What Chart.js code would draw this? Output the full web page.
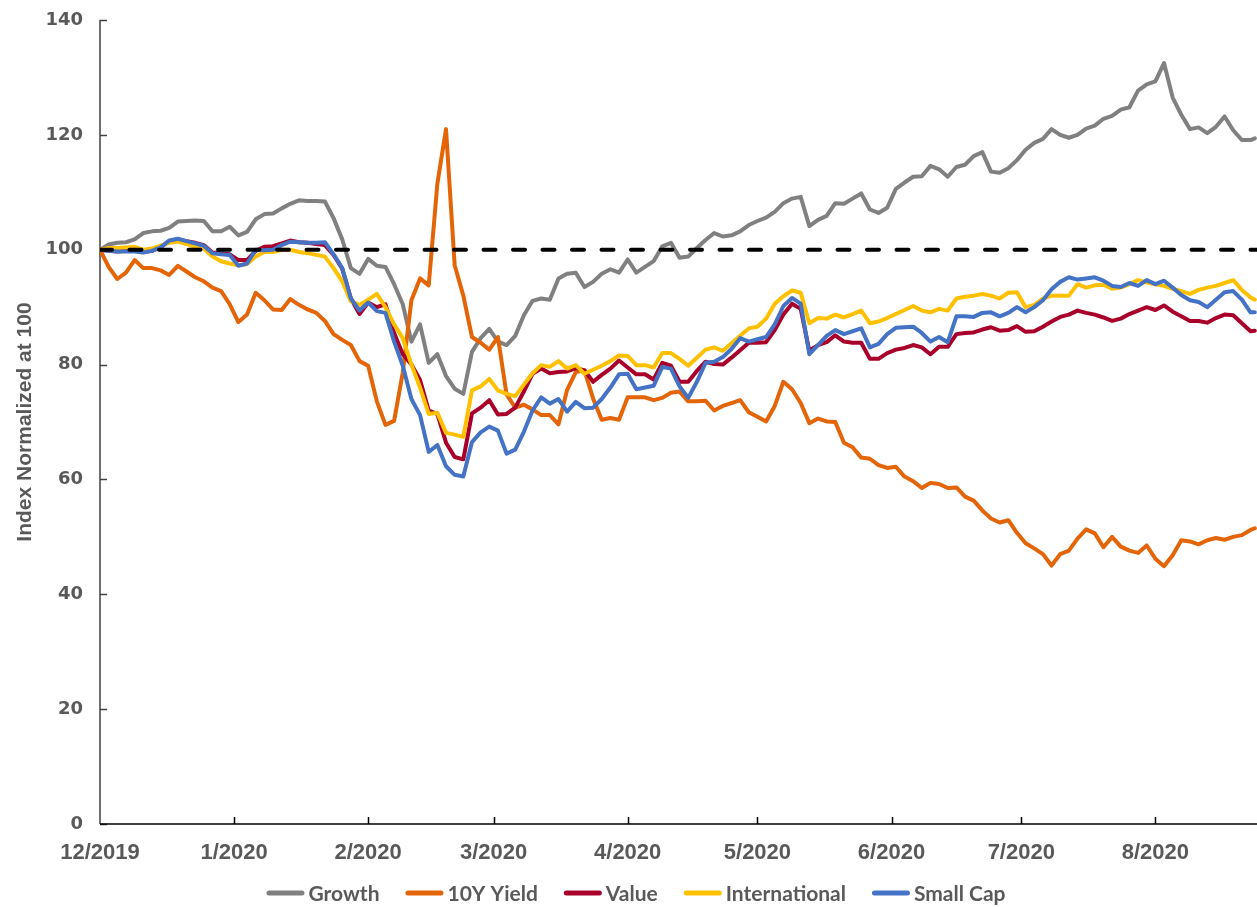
<!DOCTYPE html>
<html>
<head>
<meta charset="utf-8">
<title>Growth, 10Y Yield, Value, International and Small Cap, indexed to 100</title>
<script src="https://cdn.jsdelivr.net/npm/chart.js@4.4.1/dist/chart.umd.min.js"></script>
<style>
  html, body { margin: 0; padding: 0; background: #ffffff; }
  canvas { display: block; }
</style>
</head>
<body>
<canvas id="chart" width="1257" height="907"></canvas>
<script>
// Observation dates, as days since 1 Dec 2019
const dayOffsets = [
  0,2,4,6,8,10,12,14,16,18,20,22,24,26,28,30,32,34,36,38,
  40,42,44,46,48,50,52,54,56,58,60,62,64,66,68,70,72,74,76,78,
  80,82,84,86,88,90,92,94,96,98,100,102,104,106,108,110,112,114,116,118,
  120,122,124,126,128,130,132,134,136,138,140,142,144,146,148,150,152,154,156,158,
  160,162,164,166,168,170,172,174,176,178,180,182,184,186,188,190,192,194,196,198,
  200,202,204,206,208,210,212,214,216,218,220,222,224,226,228,230,232,234,236,238,
  240,242,244,246,248,250,252,254,256,258,260,262,264,266,267
];

// Index levels, normalized to 100 at the start
const growth = [
  100,100.9,101.2,101.3,101.8,102.9,103.2,103.3,103.8,104.9,
  105.0,105.1,105.0,103.2,103.2,104.0,102.5,103.1,105.3,106.2,
  106.3,107.2,108.0,108.6,108.5,108.5,108.4,105.5,101.8,96.8,
  95.8,98.4,97.2,97.0,94.0,90.5,84.0,87.0,80.3,81.8,
  78.0,75.8,74.9,82.2,84.6,86.2,84.0,83.4,85.0,88.6,
  91.1,91.5,91.3,95.0,95.8,96.0,93.5,94.4,95.8,96.6,
  96.0,98.3,96.0,97.0,98.0,100.6,101.2,98.6,98.8,100.3,
  101.7,102.9,102.3,102.5,103.2,104.3,105.0,105.6,106.6,108.1,
  108.9,109.2,104.1,105.2,105.9,108.1,108.0,108.9,109.8,107.0,
  106.4,107.3,110.6,111.7,112.7,112.8,114.6,114.0,112.7,114.4,
  114.8,116.3,117.0,113.6,113.4,114.2,115.6,117.4,118.6,119.3,
  121.0,120.0,119.5,120.0,121.1,121.6,122.8,123.3,124.4,124.8,
  127.7,128.8,129.3,132.5,126.5,123.5,121.0,121.3,120.3,121.4,
  123.2,120.8,119.1,119.1,119.4
];

const tenYearYield = [
  100,97.0,94.9,96.0,98.2,96.8,96.8,96.4,95.6,97.2,
  96.2,95.2,94.5,93.4,92.8,90.5,87.4,88.7,92.5,91.2,
  89.6,89.5,91.4,90.4,89.6,89.0,87.6,85.3,84.3,83.4,
  80.6,79.8,73.6,69.5,70.2,78.6,91.2,95.0,93.8,111.5,
  121.0,97.3,92.0,84.8,83.8,82.6,84.8,74.8,72.5,73.0,
  72.2,71.2,71.2,69.6,75.6,78.7,79.0,74.1,70.4,70.7,
  70.4,74.3,74.3,74.3,73.8,74.2,75.1,75.3,73.6,73.6,
  73.7,72.0,72.8,73.3,73.8,71.7,70.9,70.1,72.8,77.0,
  75.7,73.3,69.8,70.6,70.1,70.0,66.4,65.6,63.8,63.6,
  62.5,62.0,62.2,60.5,59.7,58.5,59.4,59.2,58.5,58.6,
  57.0,56.3,54.6,53.2,52.5,52.9,50.7,48.9,48.0,47.0,
  45.0,47.0,47.6,49.7,51.3,50.6,48.2,50.0,48.3,47.6,
  47.2,48.5,46.2,44.9,46.8,49.4,49.2,48.7,49.4,49.8,
  49.5,50.0,50.3,51.2,51.5
];

const value = [
  100,99.8,99.7,99.8,99.8,99.6,99.8,100.4,101.5,101.8,
  101.5,101.2,100.8,99.5,99.4,99.2,98.2,98.2,99.8,100.5,
  100.6,101.1,101.6,101.3,101.2,101.0,100.8,99.1,96.7,91.5,
  88.8,90.8,90.0,90.5,85.5,81.8,80.0,77.3,72.0,71.4,
  66.4,63.9,63.5,71.5,72.5,73.8,71.3,71.4,72.5,75.3,
  78.4,79.3,78.5,78.7,78.8,79.4,79.0,77.0,78.2,79.3,
  80.7,79.5,78.3,78.3,77.4,80.3,79.8,77.0,77.0,78.9,
  80.5,80.1,80.0,81.2,82.5,83.8,83.8,83.9,86.0,88.7,
  90.6,89.7,82.4,83.4,83.9,85.1,84.0,83.8,83.8,81.0,
  81.0,82.0,82.6,82.9,83.4,83.0,81.8,83.1,83.1,85.3,
  85.5,85.6,86.1,86.5,85.9,86.0,86.7,85.7,85.8,86.6,
  87.5,88.3,88.7,89.4,89.0,88.7,88.2,87.6,88.0,88.8,
  89.4,90.0,89.5,90.3,89.2,88.4,87.6,87.6,87.3,88.1,
  88.7,88.6,87.2,85.8,85.9
];

const international = [
  100,100.3,100.3,100.4,100.5,100.0,100.2,100.7,101.2,101.4,
  101.0,100.5,100.2,98.8,98.0,97.6,97.3,97.5,98.8,99.6,
  99.6,100.0,100.0,99.6,99.4,99.1,98.8,96.8,94.5,91.0,
  90.4,91.3,92.3,90.0,87.0,84.6,80.0,76.0,71.4,71.6,
  68.1,67.8,67.4,75.5,76.2,77.5,75.5,74.9,74.5,76.5,
  78.5,79.9,79.6,80.6,79.3,79.9,78.4,79.1,79.8,80.6,
  81.6,81.5,79.9,79.9,79.5,82.0,82.0,81.0,79.8,81.2,
  82.6,83.0,82.4,83.7,85.0,86.3,86.6,88.0,90.6,91.9,
  92.9,92.5,87.2,88.1,88.0,88.7,88.2,88.8,89.4,87.2,
  87.5,88.1,88.8,89.5,90.2,89.4,89.1,89.7,89.4,91.5,
  91.8,92.0,92.3,92.0,91.5,92.5,92.6,90.0,90.4,91.5,
  92.0,92.0,92.0,94.0,93.4,93.8,93.9,93.2,93.4,94.0,
  94.7,94.3,94.0,93.7,93.2,92.8,92.3,93.0,93.4,93.7,
  94.2,94.7,93.0,91.7,91.3
];

const smallCap = [
  100,99.8,99.7,99.7,99.7,99.5,99.8,100.4,101.6,101.9,
  101.5,101.1,100.7,99.4,99.2,99.1,97.2,97.6,100.0,99.9,
  100.0,100.8,101.4,101.3,101.2,101.2,101.3,99.2,96.8,91.5,
  89.4,90.8,89.3,89.0,84.0,79.8,74.0,71.2,64.8,66.0,
  62.3,60.8,60.5,66.5,68.2,69.2,68.5,64.5,65.2,68.3,
  72.0,74.3,73.2,74.0,71.8,73.5,72.4,72.5,74.0,76.0,
  78.3,78.4,75.7,76.0,76.3,79.6,79.3,76.2,74.2,77.0,
  80.3,80.5,81.3,82.7,84.6,84.0,84.4,84.8,87.0,90.2,
  91.6,90.6,81.8,83.4,85.0,86.0,85.3,85.8,86.3,83.0,
  83.6,85.3,86.4,86.5,86.6,85.5,84.0,84.8,83.9,88.4,
  88.4,88.3,89.0,89.1,88.4,89.0,90.0,89.1,90.0,91.2,
  93.1,94.4,95.2,94.8,95.0,95.2,94.6,93.7,93.5,94.2,
  93.7,94.7,94.0,94.6,93.4,92.1,91.2,90.9,90.0,91.3,
  92.6,92.8,91.3,89.1,89.1
];

// Month starts on the date axis and their labels
const monthTickDays = [0, 31, 62, 91, 122, 152, 183, 213, 244];
const monthTickLabels = ['12/2019', '1/2020', '2/2020', '3/2020', '4/2020', '5/2020', '6/2020', '7/2020', '8/2020'];
const lastAxisDay = 267.5;

// Value axis and the reference level every index starts from
const valueAxisMin = 0;
const valueAxisMax = 140;
const valueAxisStep = 20;
const baseLevel = 100;

const TEXT_GREY = '#595959';

function toPoints(values) {
  return dayOffsets.map((d, i) => ({ x: d, y: values[i] }));
}

function seriesStyle(color) {
  return {
    borderColor: color,
    backgroundColor: color,
    borderWidth: 4,
    pointRadius: 0,
    pointHoverRadius: 0,
    tension: 0,
    borderJoinStyle: 'round',
    borderCapStyle: 'round',
    fill: false
  };
}

// Axis lines and inward-pointing tick marks
const axisMarks = {
  id: 'axisMarks',
  beforeDatasetsDraw(chart) {
    const { ctx, chartArea: a, scales: { x, y } } = chart;
    ctx.save();
    ctx.lineCap = 'butt';

    ctx.strokeStyle = '#404040';
    ctx.lineWidth = 1.5;
    ctx.beginPath();
    ctx.moveTo(a.left, a.top);
    ctx.lineTo(a.left, a.bottom);
    y.ticks.forEach(t => {
      const py = Math.round(y.getPixelForValue(t.value)) + 0.5;
      ctx.moveTo(a.left, py);
      ctx.lineTo(a.left + 7, py);
    });
    ctx.stroke();

    ctx.strokeStyle = '#000000';
    ctx.lineWidth = 1.5;
    ctx.beginPath();
    ctx.moveTo(a.left, a.bottom);
    ctx.lineTo(a.right, a.bottom);
    x.ticks.forEach(t => {
      if (t.value <= x.min) return;
      const px = Math.round(x.getPixelForValue(t.value)) + 0.5;
      ctx.moveTo(px, a.bottom);
      ctx.lineTo(px, a.bottom - 7);
    });
    ctx.stroke();
    ctx.restore();
  }
};

// Legend row with short line samples, centred under the chart
const lineLegend = {
  id: 'lineLegend',
  afterDraw(chart) {
    const ctx = chart.ctx;
    const items = chart.data.datasets.filter(d => !d.isReference);
    const sampleLen = 38, sampleGap = 4, itemGap = 26;
    const centerX = 636, rowY = 893;
    ctx.save();
    ctx.font = 'bold 21px Lato, "Liberation Sans", sans-serif';
    const widths = items.map(d => sampleLen + sampleGap + ctx.measureText(d.label).width);
    const total = widths.reduce((s, w) => s + w, 0) + itemGap * (items.length - 1);
    let x = centerX - total / 2;
    items.forEach((d, i) => {
      ctx.strokeStyle = d.borderColor;
      ctx.lineWidth = 5;
      ctx.lineCap = 'round';
      ctx.beginPath();
      ctx.moveTo(x + 2.5, rowY);
      ctx.lineTo(x + sampleLen - 2.5, rowY);
      ctx.stroke();
      ctx.fillStyle = TEXT_GREY;
      ctx.textAlign = 'left';
      ctx.textBaseline = 'middle';
      ctx.fillText(d.label, x + sampleLen + sampleGap, rowY + 1);
      x += widths[i] + itemGap;
    });
    ctx.restore();
  }
};

const datasets = [
  Object.assign({ label: 'Growth', data: toPoints(growth), order: 5 }, seriesStyle('#808080')),
  Object.assign({ label: '10Y Yield', data: toPoints(tenYearYield), order: 4 }, seriesStyle('#E46508')),
  Object.assign({ label: 'Value', data: toPoints(value), order: 3 }, seriesStyle('#A8002A')),
  Object.assign({ label: 'International', data: toPoints(international), order: 2 }, seriesStyle('#FFC000')),
  Object.assign({ label: 'Small Cap', data: toPoints(smallCap), order: 1 }, seriesStyle('#4472C4')),
  {
    label: '',
    isReference: true,
    data: [{ x: 0, y: baseLevel }, { x: lastAxisDay, y: baseLevel }],
    borderColor: '#000000',
    borderWidth: 4,
    borderDash: [12, 17.5],
    borderCapStyle: 'round',
    pointRadius: 0,
    tension: 0,
    fill: false,
    order: 0
  }
];

new Chart(document.getElementById('chart'), {
  type: 'line',
  data: { datasets },
  plugins: [axisMarks, lineLegend],
  options: {
    responsive: false,
    animation: false,
    devicePixelRatio: 1,
    layout: { padding: { top: 20, right: 0, bottom: 0, left: 0 } },
    plugins: {
      legend: { display: false },
      tooltip: { enabled: false }
    },
    scales: {
      x: {
        type: 'linear',
        min: 0,
        max: lastAxisDay,
        grid: { display: false, drawTicks: false },
        border: { display: false },
        afterBuildTicks: scale => { scale.ticks = monthTickDays.map(v => ({ value: v })); },
        afterFit: scale => {
          scale.height = 83;
          scale.paddingLeft = 0;
          scale.paddingRight = 0;
        },
        ticks: {
          autoSkip: false,
          maxRotation: 0,
          minRotation: 0,
          padding: 16,
          color: TEXT_GREY,
          font: { family: '"Liberation Sans", Arial, sans-serif', weight: 'bold', size: 22 },
          callback: v => {
            const k = monthTickDays.indexOf(v);
            return k >= 0 ? monthTickLabels[k] : '';
          }
        }
      },
      y: {
        min: valueAxisMin,
        max: valueAxisMax,
        grid: { display: false, drawTicks: false },
        border: { display: false },
        afterFit: scale => {
          scale.width = 100;
          scale.paddingTop = 0;
          scale.paddingBottom = 0;
        },
        ticks: {
          stepSize: valueAxisStep,
          padding: 17,
          color: TEXT_GREY,
          font: { family: '"DejaVu Sans", Verdana, sans-serif', weight: 'bold', size: 18 }
        },
        title: {
          display: true,
          text: 'Index Normalized at 100',
          color: TEXT_GREY,
          padding: { top: 13, bottom: 0 },
          font: { family: '"Liberation Sans", Arial, sans-serif', weight: 'bold', size: 21 }
        }
      }
    }
  }
});
</script>
</body>
</html>
